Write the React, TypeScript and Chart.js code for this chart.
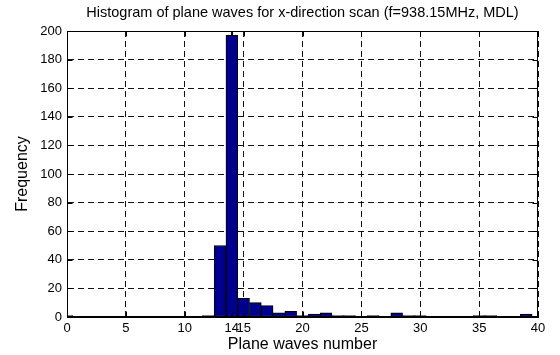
import React, { useEffect, useRef } from "react";
import { Chart, registerables } from "chart.js";

Chart.register(...registerables);

// ---- data ----
const bins: number[] = [
  0, 1, 2, 3, 4, 5, 6, 7, 8, 9, 10, 11, 12, 13, 14, 15, 16, 17, 18, 19,
  20, 21, 22, 23, 24, 25, 26, 27, 28, 29, 30, 31, 32, 33, 34, 35, 36, 37, 38, 39,
];
const counts: number[] = [
  1, 0, 0, 0, 0, 0, 0, 0, 0, 0, 0, 0, 1, 50, 197, 13, 10, 8, 3, 4,
  1, 2, 3, 1, 1, 0, 1, 0, 3, 1, 1, 0, 0, 0, 0, 1, 1, 0, 0, 2,
];
const xTickValues: number[] = [0, 5, 10, 14, 15, 20, 25, 30, 35, 40];
const yTickValues: number[] = [0, 20, 40, 60, 80, 100, 120, 140, 160, 180, 200];
const titleText = "Histogram of plane waves for x-direction scan (f=938.15MHz, MDL)";
const xLabel = "Plane waves number";
const yLabel = "Frequency";

const FONT = "'Liberation Sans', Arial, Helvetica, sans-serif";

const boxPlugin = {
  id: "matlabBox",
  afterDatasetsDraw(chart: any) {
    const { ctx, chartArea: a, scales } = chart;
    const L = Math.round(a.left) + 0.5;
    const R = Math.round(a.right) - 0.5;
    const T = Math.round(a.top) + 0.5;
    const B = Math.round(a.bottom) - 0.5;
    ctx.save();
    ctx.strokeStyle = "#000";
    ctx.lineWidth = 1;
    ctx.setLineDash([]);
    ctx.strokeRect(L, T, R - L, B - T);
    const tl = 5;
    ctx.beginPath();
    scales.x.ticks.forEach((t: any) => {
      const px = Math.round(scales.x.getPixelForValue(t.value)) + 0.5;
      ctx.moveTo(px, B);
      ctx.lineTo(px, B - tl);
      ctx.moveTo(px, T);
      ctx.lineTo(px, T + tl);
    });
    scales.y.ticks.forEach((t: any) => {
      const py = Math.round(scales.y.getPixelForValue(t.value)) + 0.5;
      ctx.moveTo(L, py);
      ctx.lineTo(L + tl, py);
      ctx.moveTo(R, py);
      ctx.lineTo(R - tl, py);
    });
    ctx.stroke();
    // title centred over the plot area
    ctx.fillStyle = "#000";
    ctx.font = `14.5px ${FONT}`;
    ctx.textAlign = "center";
    ctx.textBaseline = "middle";
    ctx.fillText(titleText, (a.left + a.right) / 2, 12.7);
    ctx.restore();
  },
};

export default function App() {
  const ref = useRef<HTMLCanvasElement | null>(null);

  useEffect(() => {
    if (!ref.current) return;
    const chart = new Chart(ref.current, {
      type: "bar",
      data: {
        datasets: [
          {
            data: bins.map((b, i) => ({ x: b, y: counts[i] })),
            backgroundColor: "#00008f",
            borderColor: "#000000",
            borderWidth: 1,
            borderSkipped: false,
            barPercentage: 1,
            categoryPercentage: 1,
          },
        ],
      },
      options: {
        responsive: false,
        animation: false,
        events: [],
        layout: { padding: { left: 0, right: 22, top: 31, bottom: 0 } },
        plugins: {
          legend: { display: false },
          tooltip: { enabled: false },
          title: { display: false },
        },
        scales: {
          x: {
            type: "linear",
            min: 0,
            max: 40,
            offset: false,
            afterFit: (s: any) => {
              s.height = 38;
            },
            afterBuildTicks: (s: any) => {
              s.ticks = xTickValues.map((v) => ({ value: v }));
            },
            grid: { offset: false, color: "#111", lineWidth: 1, drawTicks: false },
            border: { display: true, color: "#000", width: 1, dash: [6, 4] },
            ticks: {
              autoSkip: false,
              maxRotation: 0,
              padding: 4,
              color: "#000",
              font: { family: FONT, size: 13 },
            },
            title: {
              display: true,
              text: xLabel,
              color: "#000",
              font: { family: FONT, size: 16, lineHeight: 1 },
              padding: { top: 0, bottom: 2 },
            },
          },
          y: {
            min: 0,
            max: 200,
            afterFit: (s: any) => {
              s.width = 67;
            },
            afterBuildTicks: (s: any) => {
              s.ticks = yTickValues.map((v) => ({ value: v }));
            },
            grid: { color: "#111", lineWidth: 1, drawTicks: false },
            border: { display: true, color: "#000", width: 1, dash: [6, 4] },
            ticks: {
              padding: 5,
              color: "#000",
              font: { family: FONT, size: 13 },
            },
            title: {
              display: true,
              text: yLabel,
              color: "#000",
              font: { family: FONT, size: 16, lineHeight: 1 },
              padding: { top: 15, bottom: 0 },
            },
          },
        },
      },
      plugins: [boxPlugin],
    });
    return () => chart.destroy();
  }, []);

  return (
    <div style={{ position: "fixed", left: 0, top: 0, width: 560, height: 355, background: "#fff" }}>
      <canvas ref={ref} width={560} height={355} />
    </div>
  );
}
